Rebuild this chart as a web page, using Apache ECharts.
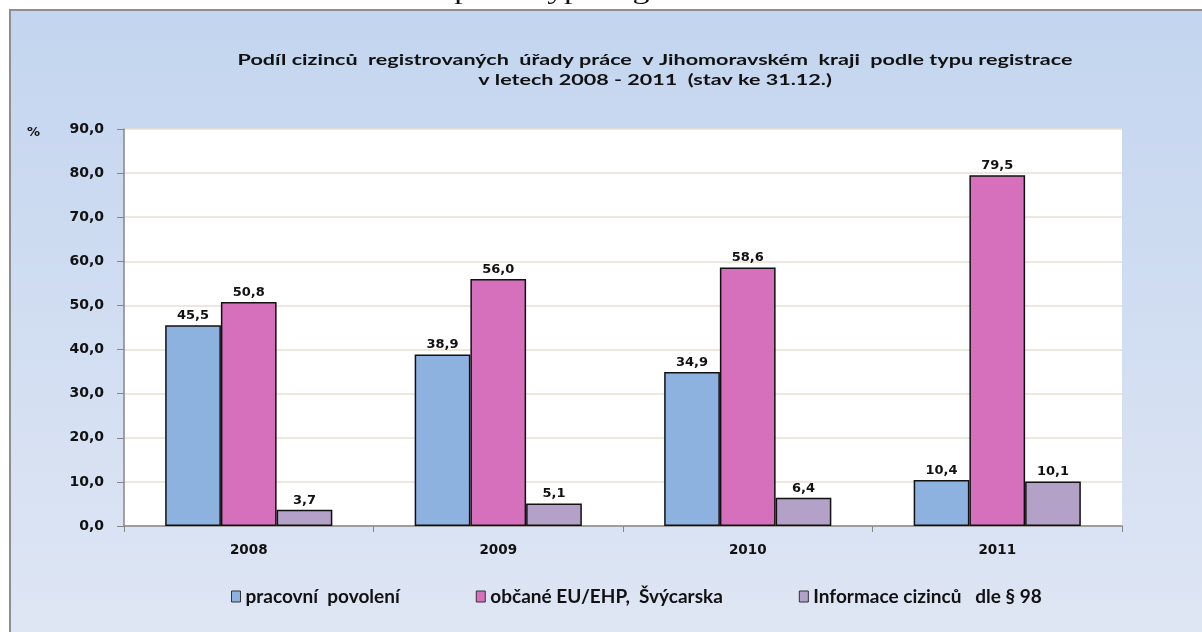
<!DOCTYPE html>
<html>
<head>
<meta charset="utf-8">
<script src="https://cdn.jsdelivr.net/npm/echarts@6/dist/echarts.min.js"></script>
<style>
html, body { margin: 0; padding: 0; background: #fff; }
#chart { width: 1202px; height: 632px; }
</style>
</head>
<body>
<div id="chart"></div>
<script>
var years = ['2008', '2009', '2010', '2011'];
var seriesNames = ['pracovní  povolení', 'občané EU/EHP,  Švýcarska', 'Informace cizinců   dle § 98'];
var pracovniPovoleni = [45.5, 38.9, 34.9, 10.4];
var obcaneEU = [50.8, 56.0, 58.6, 79.5];
var informace98 = [3.7, 5.1, 6.4, 10.1];
var colors = ['#8eb2e0', '#d670bd', '#b3a1c7'];
var chartTitle = 'Podíl cizinců  registrovaných  úřady práce  v Jihomoravském  kraji  podle typu registrace\nv letech 2008 - 2011  (stav ke 31.12.)';

var chart = echarts.init(document.getElementById('chart'));

function fmt(v) {
    return v.toFixed(1).replace('.', ',');
}

function bar(name, data, color) {
    return {
        name: name,
        type: 'bar',
        data: data,
        barGap: '0%',
        barCategoryGap: '33%',
        itemStyle: { color: color, borderColor: '#111', borderWidth: 1.5 },
        label: {
            show: true,
            position: 'top',
            distance: 3,
            color: '#111',
            fontFamily: 'DejaVu Sans',
            fontWeight: 'bold',
            fontSize: 13,
            formatter: function (p) { return fmt(p.value); }
        }
    };
}

chart.setOption({
    backgroundColor: '#fff',
    animation: false,
    color: colors,
    graphic: [
        {
            type: 'rect',
            z: -100,
            shape: { x: 10, y: 10, width: 1200, height: 630 },
            style: {
                fill: new echarts.graphic.LinearGradient(0, 0, 0, 1, [
                    { offset: 0, color: '#c3d5ef' },
                    { offset: 1, color: '#dfe6f4' }
                ]),
                stroke: '#8e8e8e',
                lineWidth: 2
            }
        },
        {
            // caption of the page above the chart, cut off by the crop
            type: 'text',
            position: [14, -20.5],
            scaleX: 1.3,
            style: {
                text: 'Obrázek 13:  Struktura  cizinců  podle typu registrace',
                font: '26px "Liberation Serif"',
                fill: '#111'
            }
        },
        {
            type: 'text',
            position: [655, 50],
            scaleX: 1.39,
            style: {
                text: chartTitle,
                x: 0,
                y: 0,
                align: 'center',
                font: 'bold 15.5px "Lato"',
                lineHeight: 20,
                fill: '#111'
            }
        },
        {
            type: 'text',
            left: 27,
            top: 126,
            style: {
                text: '%',
                font: 'bold 13px "DejaVu Sans"',
                fill: '#111'
            }
        }
    ],
    legend: {
        data: seriesNames,
        left: 226,
        top: 582,
        itemGap: 76,
        itemWidth: 9,
        itemHeight: 11,
        icon: 'rect',
        itemStyle: { borderColor: '#333', borderWidth: 1 },
        textStyle: {
            fontFamily: 'Lato',
            fontWeight: 'bold',
            fontSize: 19,
            color: '#111'
        }
    },
    grid: {
        left: 124,
        right: 80,
        top: 129,
        bottom: 106,
        show: true,
        backgroundColor: '#fff',
        borderWidth: 0
    },
    xAxis: {
        type: 'category',
        data: years,
        axisLine: { lineStyle: { color: '#868686', width: 1.5 } },
        axisTick: { show: true, length: 6, lineStyle: { color: '#868686' } },
        axisLabel: {
            margin: 17,
            color: '#111',
            fontFamily: 'DejaVu Sans',
            fontWeight: 'bold',
            fontSize: 13.5
        }
    },
    yAxis: {
        type: 'value',
        min: 0,
        max: 90,
        interval: 10,
        axisLine: { show: true, lineStyle: { color: '#868686', width: 1.5 } },
        axisTick: { show: true, length: 7, lineStyle: { color: '#868686' } },
        splitLine: { lineStyle: { color: '#e6e1cf', width: 1.5 } },
        axisLabel: {
            margin: 20,
            color: '#111',
            fontFamily: 'DejaVu Sans',
            fontWeight: 'bold',
            fontSize: 14,
            formatter: function (v) { return fmt(v); }
        }
    },
    series: [
        bar(seriesNames[0], pracovniPovoleni, colors[0]),
        bar(seriesNames[1], obcaneEU, colors[1]),
        bar(seriesNames[2], informace98, colors[2])
    ]
});
</script>
</body>
</html>
